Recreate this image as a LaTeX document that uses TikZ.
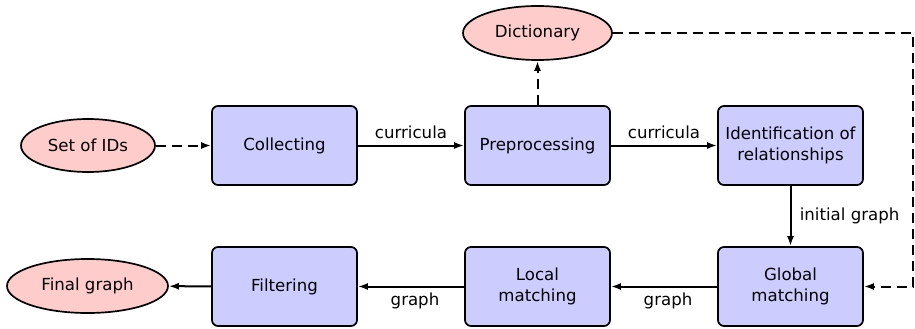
\documentclass[tikz,border=0pt]{standalone}
\usepackage{fontspec}
\setmainfont{DejaVu Sans}
\usetikzlibrary{shapes.geometric,arrows.meta}
\definecolor{boxfill}{HTML}{CCCCFF}
\definecolor{ellfill}{HTML}{FFCCCC}
\begin{document}
\begin{tikzpicture}[x=1pt,y=-1pt,
  every node/.style={font=\fontsize{16.6}{21.5}\selectfont},
  procbox/.style={draw,line width=1.7pt,rounded corners=6pt,fill=boxfill,
    minimum width=145pt,minimum height=79pt,align=center,inner sep=2pt},
  datanode/.style={draw,line width=1.7pt,ellipse,fill=ellfill,inner sep=0pt},
  flow/.style={line width=2pt,-{Latex[length=10pt,width=7pt]}},
  dflow/.style={flow,dash pattern=on 10pt off 6pt},
  edgelab/.style={below=2pt,xshift=4pt}]
\useasboundingbox (0,0) rectangle (915,329);
\node[datanode,minimum width=134pt,minimum height=53pt] (ids) at (88,145.5) {Set of IDs};
\node[procbox] (col) at (284.5,145.5) {Collecting};
\node[procbox] (pre) at (537.5,145.5) {Preprocessing};
\node[procbox] (idr) at (790.5,145.5) {Identification of\\relationships};
\node[datanode,minimum width=149pt,minimum height=54pt] (dict) at (537.5,33) {Dictionary};
\node[procbox] (glob) at (790.5,286.5) {Global\\matching};
\node[procbox] (loc) at (537.5,286.5) {Local\\matching};
\node[procbox] (filt) at (284.5,286.5) {Filtering};
\node[datanode,minimum width=161pt,minimum height=54pt] (fin) at (87.5,286) {Final graph};
\coordinate (c1) at (913,33);
\coordinate (c2) at (913,286.5);
\draw[dflow] (ids) -- (col);
\draw[flow] (col) -- node[above=2pt] {curricula} (pre);
\draw[flow] (pre) -- node[above=2pt] {curricula} (idr);
\draw[dflow] (pre) -- (dict);
\draw[flow] (idr) -- node[right=5pt] {initial graph} (glob);
\draw[dflow] (dict.east) -- (c1) -- (c2) -- (glob.east);
\draw[flow] (glob) -- node[edgelab] {graph} (loc);
\draw[flow] (loc) -- node[edgelab] {graph} (filt);
\draw[flow] (filt) -- (fin);
\end{tikzpicture}
\end{document}
